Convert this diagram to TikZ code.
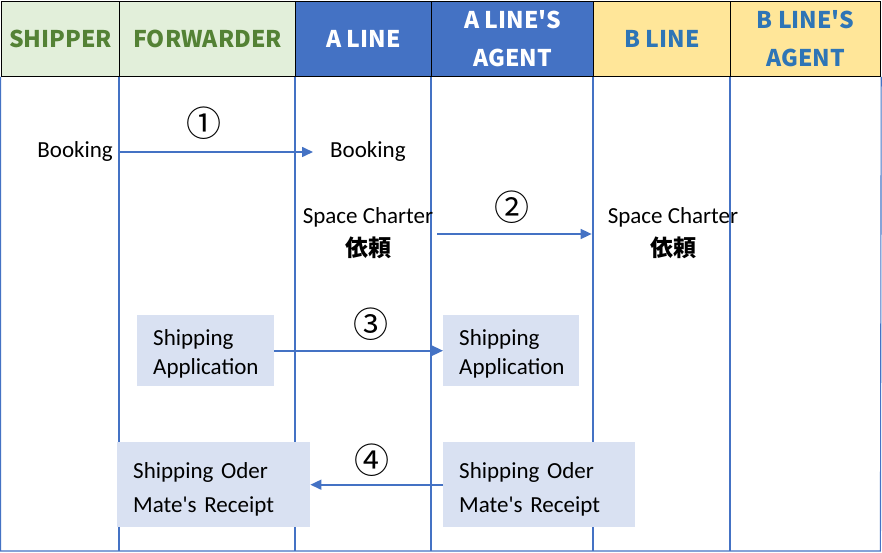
\documentclass[tikz,border=0pt]{standalone}
\usepackage{fontspec}
\setmainfont{Carlito}[Ligatures=TeXOff]
\newfontfamily\cjk{Noto Sans CJK JP}
\usetikzlibrary{arrows.meta}
\definecolor{gfill}{HTML}{E2EFDA}
\definecolor{gtext}{HTML}{548235}
\definecolor{bfill}{HTML}{4472C4}
\definecolor{yfill}{HTML}{FFE699}
\definecolor{ytext}{HTML}{2E75B6}
\definecolor{boxfill}{HTML}{D9E1F2}
\definecolor{lineblue}{HTML}{4472C4}
\begin{document}
\begin{tikzpicture}[x=1pt,y=-1pt,
  hdr/.style={draw=black, line width=1.2pt, minimum height=75pt, anchor=north west,
    inner sep=0pt, align=center, font=\cjk\bfseries\fontsize{23}{38}\selectfont},
  vline/.style={draw=lineblue, line width=1.1pt},
  txt/.style={inner sep=0pt, font=\fontsize{23}{33}\selectfont, text=black},
  num/.style={inner sep=0pt, font=\cjk\fontsize{35}{35}\selectfont},
  box/.style={fill=boxfill, anchor=north west, inner xsep=16pt, inner ysep=0pt, align=left},
  arr/.style={draw=lineblue, line width=1.6pt, -{Triangle[length=11pt,width=10pt]}}]
\useasboundingbox (0,0) rectangle (882,553);
\fill[white] (0,0) rectangle (882,553);
% header cells
\node[hdr, fill=gfill, text=gtext, minimum width=119pt] (h1) at (0.6,0.6) {SHIPPER};
\node[hdr, fill=gfill, text=gtext, minimum width=176pt] (h2) at (119,0.6) {FORWARDER};
\node[hdr, fill=bfill, text=white, minimum width=136pt] (h3) at (295,0.6) {A LINE};
\node[hdr, fill=bfill, text=white, minimum width=162pt] (h4) at (431,0.6) {A LINE'S\\AGENT};
\node[hdr, fill=yfill, text=ytext, minimum width=137pt] (h5) at (593,0.6) {B LINE};
\node[hdr, fill=yfill, text=ytext, minimum width=150pt] (h6) at (730,0.6) {B LINE'S\\AGENT};
% body lines
\draw[vline] (h1.south west) -- (0.6,551) -- (880.4,551) -- (h6.south east);
\foreach \h in {h2,h3,h4,h5,h6}
  \draw[vline] (\h.south west) -- (\h.south west |- 0,551);
% step 1
\node[txt, anchor=east] (bookL) at (113,151) {Booking};
\node[txt, anchor=west] (bookR) at (330,151) {Booking};
\node[num] (n1) at (204,123) {①};
\draw[arr] ([xshift=6pt,yshift=-1pt]bookL.east) -- ([xshift=-17pt,yshift=-1pt]bookR.west);
% step 2
\node[txt, align=center] (scA) at (368,233) {Space Charter\\{\cjk\bfseries 依頼}};
\node[txt, align=center] (scB) at (673,233) {Space Charter\\{\cjk\bfseries 依頼}};
\node[num] (n2) at (512,207) {②};
\draw[arr] ([xshift=4pt,yshift=-1pt]scA.east) -- ([xshift=-16pt,yshift=-1pt]scB.west);
% step 3
\node[box, text width=105pt, minimum height=71pt, font=\fontsize{23}{29}\selectfont] (app1) at (137,315) {\rule{0pt}{22pt}Shipping\\Application};
\node[box, text width=104pt, minimum height=71pt, font=\fontsize{23}{29}\selectfont] (app2) at (443,315) {\rule{0pt}{22pt}Shipping\\Application};
\node[num] (n3) at (371,324) {③};
\draw[arr] (app1.east) -- (app2.west);
% step 4
\node[box, text width=161pt, minimum height=85pt, font=\fontsize{23}{34}\selectfont] (so1) at (117,442) {\rule{0pt}{25pt}Shipping Oder\\Mate's Receipt};
\node[box, text width=160pt, minimum height=85pt, font=\fontsize{23}{34}\selectfont] (so2) at (443,442) {\rule{0pt}{25pt}Shipping Oder\\Mate's Receipt};
\node[num] (n4) at (372,460) {④};
\draw[arr] (so2.west) -- (so1.east);
\end{tikzpicture}
\end{document}
